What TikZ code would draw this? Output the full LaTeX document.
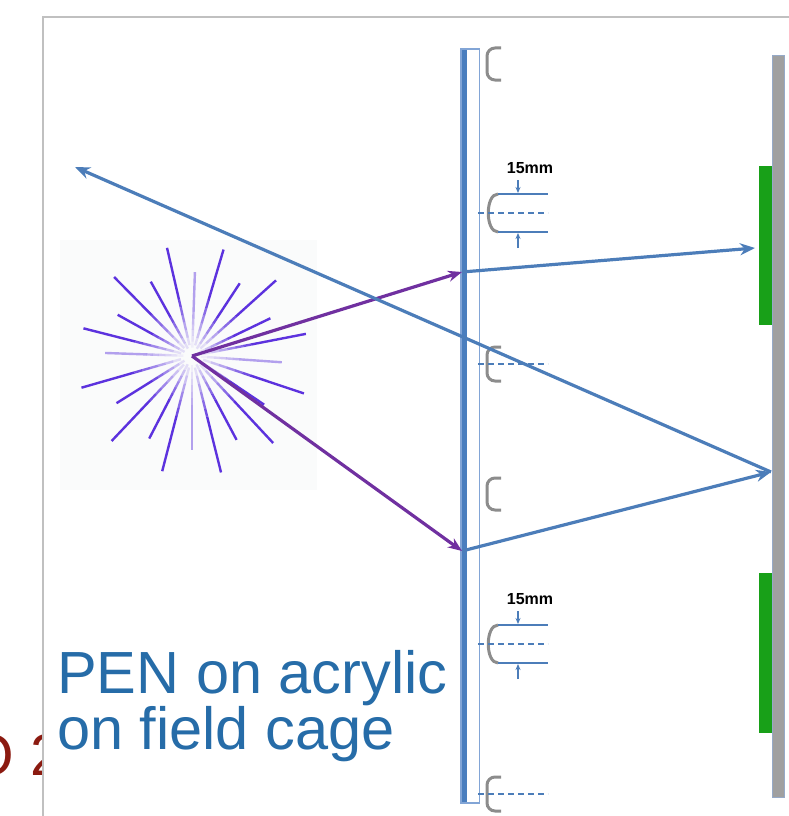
\documentclass[tikz,border=0pt]{standalone}
\usepackage{fontspec}
\setmainfont{Liberation Sans}
\usetikzlibrary{arrows.meta}

\definecolor{rayblue}{RGB}{76,125,185}
\definecolor{photon}{RGB}{112,48,160}
\definecolor{burst}{RGB}{92,50,222}
\definecolor{burstbg}{RGB}{250,251,251}
\definecolor{penblue}{RGB}{38,108,168}
\definecolor{plateblue}{RGB}{74,126,190}
\definecolor{plateedge}{RGB}{130,165,214}
\definecolor{holdgray}{RGB}{140,140,140}
\definecolor{sensor}{RGB}{24,160,24}
\definecolor{detgray}{RGB}{160,160,160}
\definecolor{detedge}{RGB}{150,170,200}
\definecolor{framegray}{RGB}{192,192,192}
\definecolor{footred}{RGB}{139,26,16}

\begin{document}
\begin{tikzpicture}[x=1pt, y=-1pt,
    ray/.style={rayblue, line width=3.2pt, -{Stealth[length=15pt, width=12pt]}},
    uv/.style={photon, line width=3.2pt, -{Stealth[length=14pt, width=11pt]}},
    spoke/.style={burst, line width=2.4pt},
    holder/.style={holdgray, line width=3pt, rounded corners=8pt},
    dim/.style={rayblue, line width=1.7pt},
    dimdash/.style={rayblue, line width=1.7pt, dash pattern=on 6pt off 4pt},
    dimarr/.style={rayblue, line width=1.3pt, -{Stealth[length=6pt, width=5pt]}}
]
\useasboundingbox (0,0) rectangle (789,816);

\begin{scope}
\clip (0,0) rectangle (43,816);
\node[anchor=base west, text=footred, inner sep=0pt, font=\fontsize{58.6}{60}\selectfont] (foot) at (-32,775) {O 2};
\end{scope}
\draw[framegray, line width=1.5pt] (43,816) -- (43,17) -- (789,17);

% scintillation flash
\coordinate (src) at (192,356);
\fill[burstbg] (60,240) rectangle (317,490);
\foreach \a/\l/\o in {11/116/1, 42/113/1, 73.5/111/1, 103/111/1, 134.6/111/1, 165.7/112/1,
                      196/115/1, 226.6/117/1, 255.5/119/1, 284/120/1, 313/119/1, 341.5/118/1,
                      25.7/87/1, 56.7/87/1, 119/85/1, 151/85/1, 212/89/1, 242.6/93/1, 298/95/1, 326/87/1,
                      88/84/0.45, 178/87/0.45, 270/94/0.45, 356/90/0.45}{
  \foreach \i [evaluate=\i as \op using {\o*(\i+1)/7}] in {0,...,5}
    \draw[spoke, draw opacity=\op, shift={(src)}] (\a:{(0.1+0.07*\i)*\l*1pt}) -- (\a:{(0.17+0.07*\i)*\l*1pt});
  \draw[spoke, draw opacity=\o, shift={(src)}] (\a:{0.52*\l*1pt}) -- (\a:{\l*1pt});
}

% acrylic plate with holders
\fill[plateblue] (461,49) rectangle (467,803);
\draw[plateedge, line width=1.2pt] (461,49) rectangle (479.5,803);
\foreach \y in {64,494}
  \draw[holder] (501,\y-16) -- (487,\y-16) -- (487,\y+16) -- (501,\y+16);
\foreach \y in {364,794}{
  \draw[holder] (501,\y-17) -- (487,\y-17) -- (487,\y+17) -- (501,\y+17);
  \draw[dimdash] (478,\y) -- (548,\y);
}
\foreach \y/\n in {213/gapA, 644/gapB}{
  \draw[holdgray, line width=3pt] (498,\y-19) .. controls (485,\y-19) and (485,\y+19) .. (498,\y+19);
  \draw[dim] (498,\y-19) -- (548,\y-19);
  \draw[dim] (498,\y+19) -- (548,\y+19);
  \draw[dimdash] (478,\y) -- (548,\y);
  \node[font=\bfseries\fontsize{16}{16}\selectfont, inner sep=0pt] (\n) at (530,\y-45) {15mm};
  \draw[dimarr] (518,\y-33) -- (518,\y-20);
  \draw[dimarr] (518,\y+35) -- (518,\y+20);
}

% readout plane
\fill[sensor] (759,166) rectangle (772,325);
\fill[sensor] (759,573) rectangle (772,733);
\draw[detedge, fill=detgray, line width=0.8pt] (772,55) rectangle (784,797);

\coordinate (hitT) at (462,272);
\coordinate (hitB) at (462,551);
\coordinate (tipT) at (755,248);
\coordinate (refl) at (771,472);
\coordinate (escape) at (75,167);

\draw[uv] (src) -- (hitT);
\draw[uv] (src) -- (hitB);
\draw[ray] (hitT) -- (tipT);
\draw[ray] (hitB) -- (refl);
\draw[ray] (refl) -- (escape);

\node[anchor=north west, align=left, text=penblue, inner sep=0pt, font=\fontsize{59.5}{55}\selectfont] (pen) at (57,650) {PEN on acrylic\\on field cage};
\end{tikzpicture}
\end{document}
